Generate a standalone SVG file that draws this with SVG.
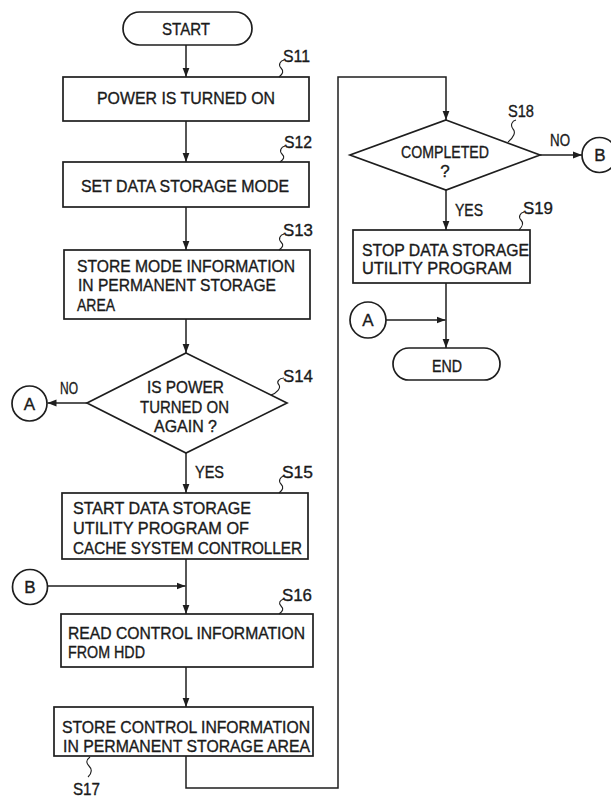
<svg xmlns="http://www.w3.org/2000/svg" width="611" height="798" viewBox="0 0 611 798">
<style>
.b{fill:#fff;stroke:#1e1e1e;stroke-width:1.7}
.c{fill:none;stroke:#1e1e1e;stroke-width:1.5}
.lead{fill:none;stroke:#1e1e1e;stroke-width:1.1}
text{font-family:"Liberation Sans","DejaVu Sans",Arial,sans-serif;font-size:17px;fill:#1a1a1a;stroke:#1a1a1a;stroke-width:0.35}
.m{text-anchor:middle}
.sm{font-size:16px}
</style>
<defs>
<marker id="ah" markerUnits="userSpaceOnUse" markerWidth="10" markerHeight="8" refX="9" refY="4" orient="auto">
<path d="M0 0.6 L9 4 L0 7.4 Z" fill="#1e1e1e"/>
</marker>
</defs>
<rect width="611" height="798" fill="#fff"/>

<g id="connectors">
<path class="c" d="M186 45 V77" marker-end="url(#ah)"/>
<path class="c" d="M186 121 V162" marker-end="url(#ah)"/>
<path class="c" d="M186 207 V250" marker-end="url(#ah)"/>
<path class="c" d="M186 319 V353" marker-end="url(#ah)"/>
<path class="c" d="M87 403 H47.5" marker-end="url(#ah)"/>
<path class="c" d="M186 453 V493" marker-end="url(#ah)"/>
<path class="c" d="M186 559 V614" marker-end="url(#ah)"/>
<path class="c" d="M47.5 586 H185.5" marker-end="url(#ah)"/>
<path class="c" d="M186 667 V707" marker-end="url(#ah)"/>
<path class="c" d="M186 756 V788 H338 V77 H446 V120" marker-end="url(#ah)"/>
<path class="c" d="M540 155 H582" marker-end="url(#ah)"/>
<path class="c" d="M446 190 V230" marker-end="url(#ah)"/>
<path class="c" d="M446 283 V348" marker-end="url(#ah)"/>
<path class="c" d="M386 320 H445.5" marker-end="url(#ah)"/>
<text x="60" y="394" textLength="18" lengthAdjust="spacingAndGlyphs">NO</text>
<text x="195" y="478" textLength="29" lengthAdjust="spacingAndGlyphs">YES</text>
<text x="550" y="146" textLength="20" lengthAdjust="spacingAndGlyphs">NO</text>
<text x="455" y="216" textLength="28" lengthAdjust="spacingAndGlyphs">YES</text>
</g>

<g id="start">
<rect class="b" x="123" y="12" width="129" height="33" rx="16.5"/>
<text x="162" y="35" textLength="48" lengthAdjust="spacingAndGlyphs">START</text>
</g>

<g id="s11">
<rect class="b" x="63" y="77" width="246" height="44"/>
<text x="97" y="104" textLength="178" lengthAdjust="spacingAndGlyphs">POWER IS TURNED ON</text>
<path class="lead" d="M284 60 c-4 1 -6 5 -3 8 c3 3 2 6 -2 9"/>
<text x="283" y="62" textLength="27" lengthAdjust="spacingAndGlyphs">S11</text>
</g>

<g id="s12">
<rect class="b" x="63" y="162" width="246" height="45"/>
<text x="81" y="192" textLength="208" lengthAdjust="spacingAndGlyphs">SET DATA STORAGE MODE</text>
<path class="lead" d="M285 146 c-4 1 -6 5 -3 8 c3 3 2 5 -2 8"/>
<text x="284" y="148" textLength="28" lengthAdjust="spacingAndGlyphs">S12</text>
</g>

<g id="s13">
<rect class="b" x="64" y="250" width="246" height="69"/>
<text x="77" y="272" textLength="218" lengthAdjust="spacingAndGlyphs">STORE MODE INFORMATION</text>
<text x="78" y="291" textLength="198" lengthAdjust="spacingAndGlyphs">IN PERMANENT STORAGE</text>
<text x="77" y="311" textLength="38" lengthAdjust="spacingAndGlyphs">AREA</text>
<path class="lead" d="M284 234 c-4 1 -6 5 -3 8 c3 3 2 5 -2 8"/>
<text x="283" y="236" textLength="30" lengthAdjust="spacingAndGlyphs">S13</text>
</g>

<g id="s14">
<path class="b" d="M186 353 L287 403 L186 453 L87 403 Z"/>
<text x="147" y="393" textLength="77" lengthAdjust="spacingAndGlyphs">IS POWER</text>
<text x="140" y="413" textLength="89" lengthAdjust="spacingAndGlyphs">TURNED ON</text>
<text x="154" y="432" textLength="63" lengthAdjust="spacingAndGlyphs">AGAIN ?</text>
<path class="lead" d="M284 378 c-5 0 -8 4 -5 7 c2 3 -2 8 -8 10"/>
<text x="283" y="382" textLength="30" lengthAdjust="spacingAndGlyphs">S14</text>
</g>

<g id="connA1">
<circle class="b" cx="29.5" cy="403.5" r="17.5"/>
<text class="m" x="29.5" y="409.5">A</text>
</g>

<g id="s15">
<rect class="b" x="62" y="493" width="246" height="66"/>
<text x="73" y="514" textLength="178" lengthAdjust="spacingAndGlyphs">START DATA STORAGE</text>
<text x="73" y="534" textLength="176" lengthAdjust="spacingAndGlyphs">UTILITY PROGRAM OF</text>
<text x="73" y="554" textLength="229" lengthAdjust="spacingAndGlyphs">CACHE SYSTEM CONTROLLER</text>
<path class="lead" d="M284 476 c-4 1 -6 5 -3 8 c3 3 2 6 -2 9"/>
<text x="282" y="478" textLength="31" lengthAdjust="spacingAndGlyphs">S15</text>
</g>

<g id="connB1">
<circle class="b" cx="30" cy="587" r="17.5"/>
<text class="m" x="30" y="593">B</text>
</g>

<g id="s16">
<rect class="b" x="61" y="614" width="252" height="53"/>
<text x="68" y="639" textLength="237" lengthAdjust="spacingAndGlyphs">READ CONTROL INFORMATION</text>
<text x="68" y="658" textLength="77" lengthAdjust="spacingAndGlyphs">FROM HDD</text>
<path class="lead" d="M284 599 c-4 1 -6 4 -3 7 c3 3 2 5 -2 8"/>
<text x="282" y="601" textLength="30" lengthAdjust="spacingAndGlyphs">S16</text>
</g>

<g id="s17">
<rect class="b" x="54" y="707" width="259" height="49"/>
<text x="62" y="733" textLength="248" lengthAdjust="spacingAndGlyphs">STORE CONTROL INFORMATION</text>
<text x="63" y="752" textLength="247" lengthAdjust="spacingAndGlyphs">IN PERMANENT STORAGE AREA</text>
<path class="lead" d="M90 757 c-4 3 -4 6 -1 9 c3 3 3 7 -1 11"/>
<text x="73" y="795" textLength="27" lengthAdjust="spacingAndGlyphs">S17</text>
</g>

<g id="s18">
<path class="b" d="M446 120 L540 155 L446 190 L350 155 Z"/>
<text x="401" y="158" textLength="88" lengthAdjust="spacingAndGlyphs">COMPLETED</text>
<text class="m" x="445" y="177">?</text>
<path class="lead" d="M516 120 c-4 1 -6 5 -3 9 c3 3 1 8 -5 13"/>
<text x="508" y="117" textLength="26" lengthAdjust="spacingAndGlyphs">S18</text>
</g>

<g id="connB2">
<circle class="b" cx="599.5" cy="155" r="17.5"/>
<text class="m" x="600" y="161">B</text>
</g>

<g id="s19">
<rect class="b" x="353" y="230" width="177" height="53"/>
<text class="sm" x="362" y="256" textLength="167" lengthAdjust="spacingAndGlyphs">STOP DATA STORAGE</text>
<text class="sm" x="362" y="274" textLength="150" lengthAdjust="spacingAndGlyphs">UTILITY PROGRAM</text>
<path class="lead" d="M524 212 c-4 1 -6 5 -3 8 c3 3 2 6 -2 10"/>
<text x="523" y="214" textLength="30" lengthAdjust="spacingAndGlyphs">S19</text>
</g>

<g id="connA2">
<circle class="b" cx="368" cy="320" r="18"/>
<text class="m" x="368" y="326">A</text>
</g>

<g id="end">
<rect class="b" x="393" y="348" width="107" height="32" rx="16"/>
<text x="432" y="372" textLength="30" lengthAdjust="spacingAndGlyphs">END</text>
</g>
</svg>
